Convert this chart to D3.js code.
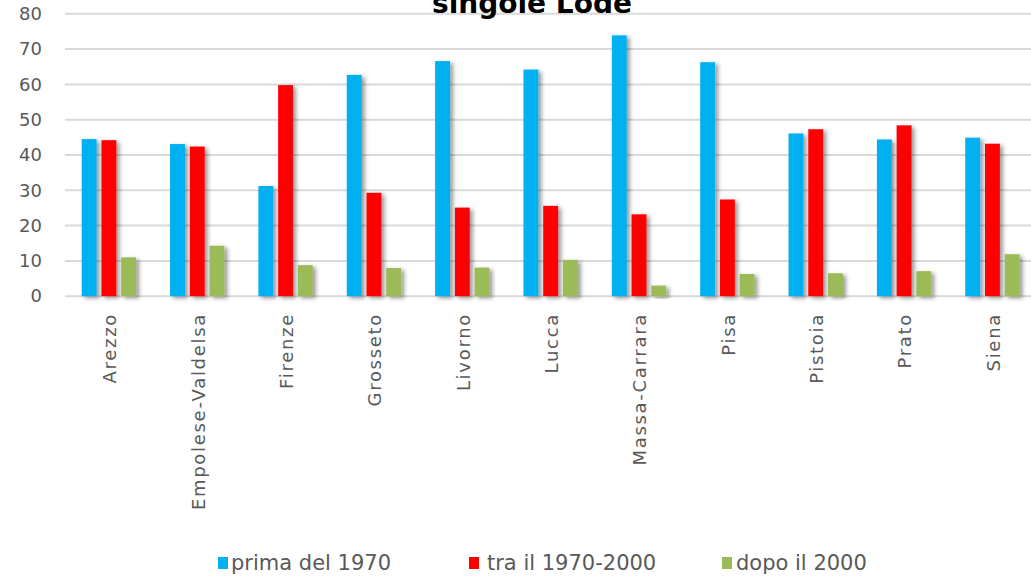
<!DOCTYPE html>
<html>
<head>
<meta charset="utf-8">
<script src="https://cdn.jsdelivr.net/npm/d3@7"></script>
<style>
  body { margin: 0; background: #fff; }
  svg { display: block; font-family: "DejaVu Sans", sans-serif; }
</style>
</head>
<body>
<script>
// data
var categories = ["Arezzo", "Empolese-Valdelsa", "Firenze", "Grosseto", "Livorno", "Lucca",
  "Massa-Carrara", "Pisa", "Pistoia", "Prato", "Siena"];
var primaDel1970 = [44.5, 43.1, 31.2, 62.7, 66.6, 64.2, 73.9, 66.3, 46.1, 44.4, 44.9];
var tra1970e2000 = [44.2, 42.4, 59.8, 29.3, 25.1, 25.6, 23.2, 27.4, 47.3, 48.4, 43.2];
var dopoIl2000 = [11.0, 14.3, 8.8, 8.0, 8.1, 10.3, 3.0, 6.3, 6.5, 7.1, 11.9];
var seriesNames = ["prima del 1970", "tra il 1970-2000", "dopo il 2000"];
var yTicks = [0, 10, 20, 30, 40, 50, 60, 70, 80];

var allSeries = [primaDel1970, tra1970e2000, dopoIl2000];
var colors = ["#00B0F0", "#FF0000", "#9BBB59"];

var width = 1031;
var height = 576;

var svg = d3.select("body").append("svg")
  .attr("width", width)
  .attr("height", height);

// excel-ish shadow
var defs = svg.append("defs");
defs.append("filter")
  .attr("id", "shadow")
  .attr("x", "-50%").attr("y", "-10%")
  .attr("width", "200%").attr("height", "130%")
  .append("feDropShadow")
  .attr("dx", 3).attr("dy", 2)
  .attr("stdDeviation", 2)
  .attr("flood-color", "#000")
  .attr("flood-opacity", 0.4);

var y = d3.scaleLinear().domain([0, 80]).range([296.2, 13.8]);

var x0 = d3.scaleBand()
  .domain(categories)
  .range([64.7, 1036.6])
  .paddingInner(0.385)
  .paddingOuter(0.1925);

var x1 = d3.scaleBand()
  .domain([0, 1, 2])
  .range([0, x0.bandwidth()])
  .paddingInner(0.244);

// gridlines
svg.append("g")
  .selectAll("line")
  .data(yTicks)
  .enter()
  .append("line")
  .attr("x1", 65)
  .attr("x2", width)
  .attr("y1", function (d) { return y(d); })
  .attr("y2", function (d) { return y(d); })
  .attr("stroke", "#d9d9d9")
  .attr("stroke-width", 2);

// y axis labels
var yAxis = d3.axisLeft(y).tickValues(yTicks).tickSize(0).tickPadding(0);
var gy = svg.append("g").attr("transform", "translate(42,0)").call(yAxis);
gy.select(".domain").remove();
gy.selectAll("text")
  .attr("fill", "#595959")
  .style("font-size", "18px")
  .style("font-family", "'DejaVu Sans', sans-serif");

// title (first line is off the top, like the original)
svg.append("text")
  .attr("x", 532)
  .attr("y", 13)
  .attr("text-anchor", "middle")
  .attr("fill", "#000")
  .style("font-size", "28px")
  .style("font-weight", "bold")
  .text("singole Lode");

// bars
var groups = svg.append("g")
  .selectAll("g")
  .data(categories)
  .enter()
  .append("g")
  .attr("transform", function (d) { return "translate(" + x0(d) + ",0)"; });

groups.selectAll("rect")
  .data(function (d, i) {
    return allSeries.map(function (s, k) { return { k: k, v: s[i] }; });
  })
  .enter()
  .append("rect")
  .attr("x", function (d) { return x1(d.k); })
  .attr("y", function (d) { return y(d.v); })
  .attr("width", x1.bandwidth())
  .attr("height", function (d) { return y(0) - y(d.v); })
  .attr("fill", function (d) { return colors[d.k]; })
  .attr("filter", "url(#shadow)");

// category labels, rotated
var xAxis = d3.axisBottom(x0).tickSize(0).tickPadding(0);
var gx = svg.append("g").attr("transform", "translate(1,313)").call(xAxis);
gx.select(".domain").remove();
gx.selectAll("text")
  .attr("transform", "rotate(-90)")
  .attr("x", 0)
  .attr("y", 0)
  .attr("dy", "0.35em")
  .attr("text-anchor", "end")
  .attr("fill", "#595959")
  .style("letter-spacing", "1.7px")
  .style("font-size", "18px")
  .style("font-family", "'DejaVu Sans', sans-serif");

// legend
var legendX = [218, 469, 722];
var legendTextX = [13, 18, 14];
var legend = svg.append("g")
  .selectAll("g")
  .data(seriesNames)
  .enter()
  .append("g")
  .attr("transform", function (d, i) { return "translate(" + legendX[i] + ",563)"; });

legend.append("rect")
  .attr("x", 0)
  .attr("y", -6)
  .attr("width", 10)
  .attr("height", 12)
  .attr("fill", function (d, i) { return colors[i]; });

legend.append("text")
  .attr("x", function (d, i) { return legendTextX[i]; })
  .attr("y", 0)
  .attr("dy", "0.35em")
  .attr("fill", "#595959")
  .style("font-size", "21px")
  .text(function (d) { return d; });
</script>
</body>
</html>
